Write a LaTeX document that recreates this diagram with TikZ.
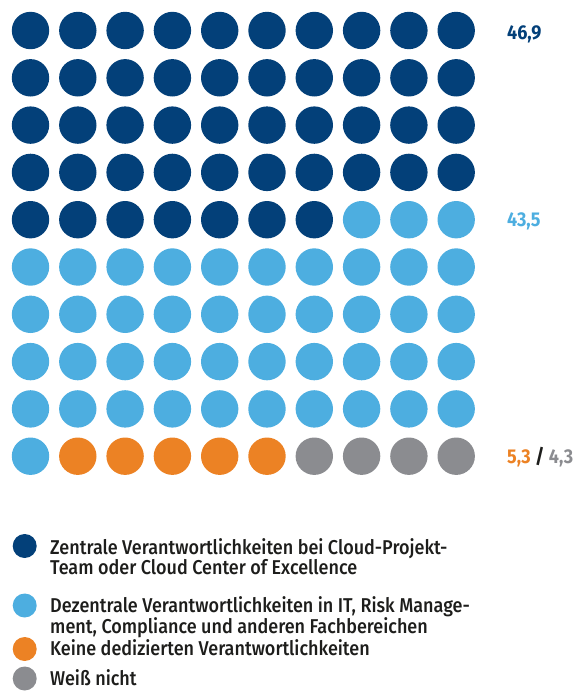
\documentclass[tikz,border=0pt]{standalone}
\usepackage{fontspec}
\setmainfont{Fira Sans}[FakeStretch=0.9, UprightFont={* Medium}, BoldFont={* Bold}]
\usetikzlibrary{positioning}
\definecolor{dunkelblau}{RGB}{3,64,121}
\definecolor{hellblau}{RGB}{77,174,224}
\definecolor{orangeton}{RGB}{236,130,36}
\definecolor{grauton}{RGB}{139,140,144}
\definecolor{schrift}{RGB}{29,29,27}
\tikzset{
  wert/.style={anchor=base west, inner sep=0pt, font=\fontsize{20}{20}\selectfont\bfseries},
  legtext/.style={anchor=base west, inner sep=0pt, align=left, text=schrift, font=\fontsize{20}{20}\selectfont}
}
\begin{document}
\begin{tikzpicture}[x=1pt, y=-1pt, line join=round, line cap=round]
				\def\d{47.3}
				\def\r{18.7}
				\def\xo{30.5}
				\def\yo{30.5}
				\useasboundingbox (0,0) rectangle (582,691);
				% punkte
				\foreach \i in {0,...,99}{
					\pgfmathtruncatemacro\zeile{div(\i,10)}
					\pgfmathtruncatemacro\spalte{mod(\i,10)}
					\ifnum\i<47 \def\farbe{dunkelblau}\else
					\ifnum\i<91 \def\farbe{hellblau}\else
					\ifnum\i<96 \def\farbe{orangeton}\else
					\def\farbe{grauton}\fi\fi\fi
					\fill[\farbe] (\xo+\spalte*\d, \yo+\zeile*\d) circle (\r pt);
				}
				% werte
				\node[wert, text=dunkelblau] (w1) at (507,39) {46,9};
				\node[wert, text=hellblau] (w2) at (507,226.5) {43,5};
				\node[wert, text=orangeton] (w3) at (507,463) {5,3};
				\node[wert, text=schrift, right=4pt of w3.base east, anchor=base west] (w4) {/};
				\node[wert, text=grauton, right=4pt of w4.base east, anchor=base west] (w5) {4,3};
				% legende
				\fill[dunkelblau] (24.7,546) circle (12pt);
				\fill[hellblau] (24.7,605.5) circle (12pt);
				\fill[orangeton] (24.7,649) circle (12pt);
				\fill[grauton] (24.7,678.5) circle (12pt);
				\node[legtext] (l1) at (50,574.3) {Zentrale Verantwortlichkeiten bei Cloud-Projekt-\\Team oder Cloud Center of Excellence};
				\node[legtext] (l2) at (50,633.3) {Dezentrale Verantwortlichkeiten in IT, Risk Manage-\\ment, Compliance und anderen Fachbereichen};
				\node[legtext] (l3) at (50,655.7) {Keine dedizierten Verantwortlichkeiten};
				\node[legtext] (l4) at (50,685) {Weiß nicht};
\end{tikzpicture}
\end{document}
